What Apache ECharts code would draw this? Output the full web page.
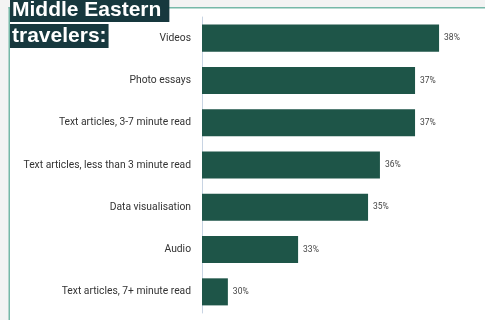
<!DOCTYPE html>
<html><head><meta charset="utf-8">
<script src="https://cdn.jsdelivr.net/npm/echarts@6/dist/echarts.min.js"></script>
<style>html,body{margin:0;padding:0;background:#f3f3f3}#c{width:485px;height:320px}</style>
</head><body><div id="c"></div>
<script>
const categories = ["Videos","Photo essays","Text articles, 3-7 minute read","Text articles, less than 3 minute read","Data visualisation","Audio","Text articles, 7+ minute read"];
const values = [37.98, 37.07, 37.07, 35.74, 35.29, 32.64, 29.98];
const titleLines = ["Middle Eastern", "travelers:"];

const chart = echarts.init(document.getElementById('c'), null, {renderer:'canvas'});
chart.setOption({
  backgroundColor: '#f3f3f3',
  animation: false,
  graphic: [
    {type:'rect', shape:{x:9, y:8, width:480, height:320}, style:{fill:'#ffffff'}, z:-10},
    {type:'rect', shape:{x:8.5, y:7, width:1.5, height:320}, style:{fill:'#76b8a8'}, z:-9},
    {type:'rect', shape:{x:8.5, y:7, width:480, height:1.5}, style:{fill:'#76b8a8'}, z:-9},
    {type:'text', left:10, top:-2, z:10, style:{text:titleLines[0], fill:'#ffffff', font:'bold 21px "Liberation Sans", Arial, sans-serif', backgroundColor:'#17383e', padding:[2,8,1,2]}},
    {type:'text', left:10, top:24, z:10, style:{text:titleLines[1], fill:'#ffffff', font:'bold 21px "Liberation Sans", Arial, sans-serif', backgroundColor:'#17383e', padding:[2,2,1,2]}}
  ],
  grid: {left:202, right:19, top:17, bottom:7, containLabel:false},
  xAxis: {type:'value', min:29, max:39, show:false},
  yAxis: {
    type:'category', data:categories, inverse:true,
    axisLine:{show:true, lineStyle:{color:'#c8d4e3', width:1}},
    axisTick:{show:false},
    axisLabel:{color:'#333333', fontSize:10.3, fontFamily:'Roboto', margin:11}
  },
  series: [{
    type:'bar', data:values, barWidth:'64%',
    itemStyle:{color:'#1e5548'},
    label:{show:true, position:'right', distance:5, color:'#444444', fontSize:8.5, fontFamily:'Roboto',
      formatter: p => Math.round(p.value) + '%'}
  }]
});
</script></body></html>
